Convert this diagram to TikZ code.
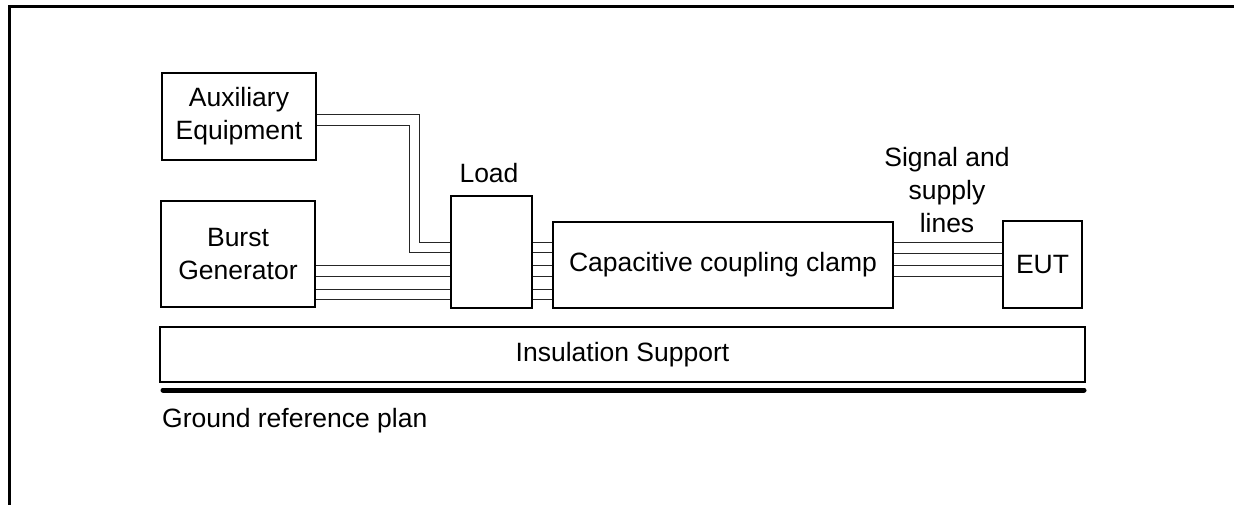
\documentclass[tikz,border=0pt]{standalone}
\usepackage{fontspec}
\setmainfont{Liberation Sans}
\begin{document}
\begin{tikzpicture}[x=1pt,y=-1pt,
  box/.style={draw=black,line width=1.6pt,inner sep=0pt,align=center,font=\fontsize{26.5}{33}\selectfont},
  lbl/.style={inner sep=0pt,align=center,font=\fontsize{26.5}{33}\selectfont},
  wire/.style={draw=black!85,line width=1pt}]
\useasboundingbox (0,0) rectangle (1234,504);
\clip (0,0) rectangle (1234,504);
\draw[line width=3pt] (9,520) -- (9,6) -- (1250,6);
% boxes
\node[box,minimum width=154pt,minimum height=87pt] (aux) at (239,116.5) {Auxiliary\\Equipment};
\node[box,minimum width=154pt,minimum height=106pt] (burst) at (238,254) {Burst\\Generator};
\node[box,minimum width=81pt,minimum height=112pt] (load) at (491.5,252) {};
\node[box,minimum width=340pt,minimum height=86pt] (clamp) at (723,265) {Capacitive coupling clamp};
\node[box,minimum width=79pt,minimum height=87pt] (eut) at (1042.5,264.5) {EUT};
\node[box,minimum width=925pt,minimum height=55pt] (ins) at (622.5,354.5) {Insulation Support};
\node[lbl] (loadlbl) at (489,173) {Load};
\node[lbl] (sig) at (947,190) {Signal and\\supply\\lines};
\coordinate (g1) at (163,390);
\coordinate (g2) at (1084,390);
\draw[line width=5pt,line cap=round] (g1) -- (g2);
\node[lbl,anchor=west] (gnd) at (162,421) {Ground reference plan};
% aux wires
\coordinate (a1) at (419,114);
\coordinate (a2) at (409,125);
\draw[wire] (aux.east |- a1) -- (a1) |- (load.west |- 0,242);
\draw[wire] (aux.east |- a2) -- (a2) |- (load.west |- 0,252);
% burst wires
\foreach \y in {265.5,276,289,299}{
  \draw[wire] (burst.east |- 0,\y) -- (load.west |- 0,\y);
}
% load to clamp
\foreach \y in {242,252,265.5,276,289,299}{
  \draw[wire] (load.east |- 0,\y) -- (clamp.west |- 0,\y);
}
% clamp to eut
\foreach \y in {242,253,265.5,276}{
  \draw[wire] (clamp.east |- 0,\y) -- (eut.west |- 0,\y);
}
\end{tikzpicture}
\end{document}
